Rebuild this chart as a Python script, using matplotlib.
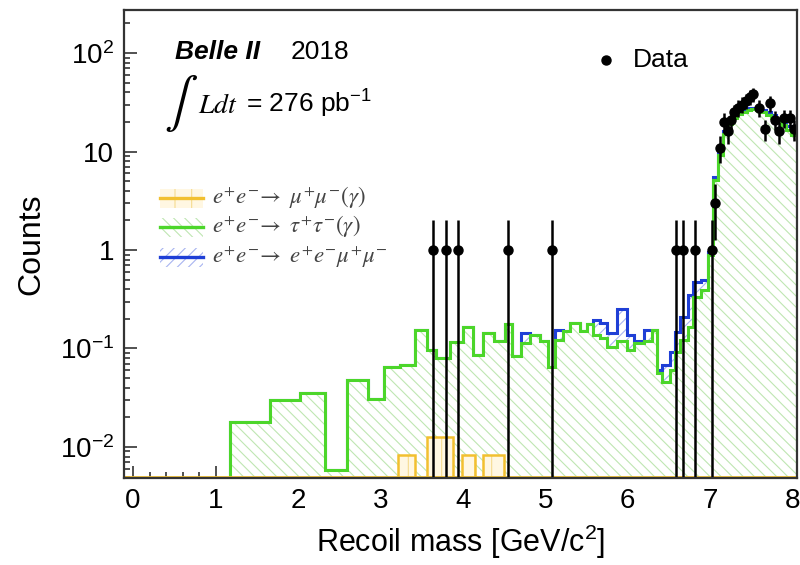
import numpy as np
import matplotlib.pyplot as plt
from matplotlib.patches import Rectangle
from matplotlib.lines import Line2D
from matplotlib.ticker import FixedLocator, MultipleLocator, LogLocator, NullFormatter

plt.rcParams['font.family'] = ['Liberation Sans', 'DejaVu Sans']
plt.rcParams['hatch.linewidth'] = 0.8

# MC histogram (tau tau and ee->eemumu stacked on top)
bin_edges = [1.18, 1.66, 2.02, 2.33, 2.6, 2.85, 3.04, 3.24, 3.42, 3.56, 3.68, 3.84,
             4.0, 4.12, 4.24, 4.38, 4.51, 4.6, 4.7, 4.81, 4.93, 5.03, 5.12, 5.22,
             5.3, 5.42, 5.5, 5.58, 5.66, 5.75, 5.87, 5.99, 6.08, 6.2, 6.29, 6.35,
             6.42, 6.51, 6.57, 6.63, 6.73, 6.79, 6.89, 6.97, 7.03, 7.09, 7.15, 7.2,
             7.26, 7.32, 7.38, 7.44, 7.5, 7.56, 7.62, 7.68, 7.74, 7.8, 7.86, 7.92,
             7.98, 8.05]
tautau = [0.018, 0.030, 0.0355, 0.0059, 0.048, 0.031, 0.065, 0.068,
          0.154, 0.097, 0.08, 0.116, 0.166, 0.085, 0.145, 0.12, 0.177, 0.084,
          0.114, 0.137, 0.12, 0.065, 0.122, 0.15, 0.18, 0.15, 0.177, 0.137,
          0.128, 0.104, 0.12, 0.097, 0.114, 0.12, 0.154, 0.056, 0.046, 0.06,
          0.092, 0.122, 0.166, 0.33, 0.39, 0.89,
          5.1, 9.2, 15, 19, 22, 24, 25.5, 26.5, 27, 26.5, 25, 23.5, 22, 20,
          18.5, 16.5, 14.7]
eemumu = [0, 0, 0, 0, 0, 0, 0, 0,
          0, 0, 0, 0, 0, 0, 0, 0, 0, 0,
          0.03, 0, 0, 0, 0.032, 0, 0, 0, 0, 0.058,
          0.052, 0.039, 0.13, 0.04, 0.006, 0.034, 0, 0.004, 0.022, 0.032,
          0.055, 0.088, 0.18, 0.14, 0.11, 0.06,
          0.4, 0.8, 1, 1, 1, 1, 1, 1, 1, 1, 1.5, 1.5, 1.5, 1.5,
          1.5, 1.5, 1.8]

mumu_edges = [3.21, 3.42, 3.56, 3.88, 3.99, 4.15, 4.25, 4.5]
mumu = [0.0083, 0, 0.0126, 0, 0.0083, 0, 0.0083]

data_x = [3.64, 3.79, 3.94, 4.55, 5.08, 6.59, 6.67, 6.82, 7.02,
          7.06, 7.12, 7.17, 7.21, 7.25, 7.29, 7.34, 7.39, 7.43, 7.48,
          7.52, 7.59, 7.66, 7.72, 7.79, 7.84, 7.9, 7.97, 8.02]
data_y = [1, 1, 1, 1, 1, 1, 1, 1, 1,
          3, 11, 20, 16, 21, 25, 28, 30, 33, 36,
          38, 28, 17, 31, 21, 16, 22, 22, 17]

ymin, ymax = 0.00484, 273
green = '#4cd62a'
blue = '#1f3fd6'
yellow = '#f2c030'

fig = plt.figure(figsize=(8, 5.65), dpi=100)
ax = fig.add_axes([0.155, 0.154, 0.841, 0.828])
ax.set_yscale('log')
ax.set_xlim(-0.11, 8.05)
ax.set_ylim(ymin, ymax)

edges = np.array(bin_edges)
tt = np.array(tautau)
top = tt + np.array(eemumu)

# e+e- -> e+e-mu+mu- (on top)
ax.stairs(top, edges, baseline=ymin, fill=True, facecolor='none',
          edgecolor='#a8b4f0', hatch='///', lw=0, zorder=1)
ax.stairs(top, edges, baseline=ymin, color=blue, lw=2.2, zorder=2)
# tau tau
ax.stairs(tt, edges, baseline=ymin, fill=True, facecolor='white',
          edgecolor='#bfe6b2', hatch='\\\\\\', lw=0, zorder=3)
ax.stairs(tt, edges, baseline=ymin, color=green, lw=2.2, zorder=4)
# mu mu
mm = np.where(np.array(mumu) > 0, mumu, ymin)
ax.stairs(mm, mumu_edges, baseline=ymin, fill=True, facecolor='#fff7e2',
          edgecolor='#f6dc90', hatch='|', lw=0, zorder=4.5)
ax.stairs(mm, mumu_edges, baseline=ymin, color=yellow, lw=1.8, zorder=4.6)
ax.axhline(ymin * 1.02, color=yellow, lw=2, zorder=4.6)

ax.errorbar(data_x, data_y, yerr=np.sqrt(data_y), fmt='o', color='black',
            ms=6.5, elinewidth=1.8, capsize=0, zorder=6)

# axes style
ax.xaxis.set_major_locator(MultipleLocator(1))
ax.xaxis.set_minor_locator(MultipleLocator(0.2))
ax.yaxis.set_major_locator(FixedLocator([0.01, 0.1, 1, 10, 100]))
ax.set_yticklabels([r'$\mathregular{10^{-2}}$', r'$\mathregular{10^{-1}}$', '1', '10',
                    r'$\mathregular{10^{2}}$'])
ax.yaxis.set_minor_locator(LogLocator(base=10, subs=np.arange(2, 10)))
ax.yaxis.set_minor_formatter(NullFormatter())
ax.tick_params(which='both', direction='in', top=False, right=False,
               color='#333333', width=1.2)
ax.tick_params(which='major', length=9, labelsize=20, pad=7)
ax.tick_params(which='minor', length=4.5)
for s in ax.spines.values():
    s.set_linewidth(1.6)
    s.set_color('#333333')
    s.set_zorder(7)

ax.set_ylabel('Counts', fontsize=23)
ax.yaxis.set_label_coords(-0.115, 0.5)
ax.set_xlabel('Recoil mass [GeV/c$\\mathregular{^2}$]', fontsize=22)
ax.xaxis.set_label_coords(0.5, -0.095)

# titles
ax.text(0.076, 0.895, 'Belle II', transform=ax.transAxes, fontsize=19,
        fontweight='bold', fontstyle='italic', va='baseline')
ax.text(0.248, 0.895, '2018', transform=ax.transAxes, fontsize=19, va='baseline')
ax.text(0.060, 0.80, r'$\int$', transform=ax.transAxes, fontsize=36,
        math_fontfamily='stix', va='center')
ax.text(0.110, 0.78, r'$Ldt$', transform=ax.transAxes, fontsize=20,
        math_fontfamily='stix', va='baseline')
ax.text(0.182, 0.78, r'= 276 pb$\mathregular{^{-1}}$', transform=ax.transAxes,
        fontsize=19, va='baseline')

# data legend
ax.plot([0.716], [0.893], 'o', color='black', ms=6.5, transform=ax.transAxes,
        zorder=8)
ax.text(0.757, 0.893, 'Data', transform=ax.transAxes, fontsize=19, va='center')

# MC legend
leg_rows = [0.598, 0.536, 0.472]
leg_labels = [r'$e^{+}e^{-}\!\rightarrow\ \mu^{+}\mu^{-}(\gamma)$',
              r'$e^{+}e^{-}\!\rightarrow\ \tau^{+}\tau^{-}(\gamma)$',
              r'$e^{+}e^{-}\!\rightarrow\ e^{+}e^{-}\mu^{+}\mu^{-}$']
leg_face = ['#fff7e2', 'white', 'white']
leg_hatch = ['|', '\\\\\\', '///']
leg_hcol = ['#f6dc90', '#bfe6b2', '#a8b4f0']
leg_line = [yellow, green, blue]
for yy, lab, fc, h, hc, lc in zip(leg_rows, leg_labels, leg_face, leg_hatch,
                                   leg_hcol, leg_line):
    ax.add_patch(Rectangle((0.053, yy - 0.02), 0.064, 0.04, transform=ax.transAxes,
                           facecolor=fc, edgecolor=hc, hatch=h, lw=0, zorder=8))
    ax.add_line(Line2D([0.053, 0.117], [yy, yy], transform=ax.transAxes,
                       color=lc, lw=2.4, zorder=9))
    ax.text(0.131, yy, lab, transform=ax.transAxes, fontsize=16.5,
            math_fontfamily='stix', va='center', color='#444444', zorder=9)

fig.savefig('out.png', dpi=100)
